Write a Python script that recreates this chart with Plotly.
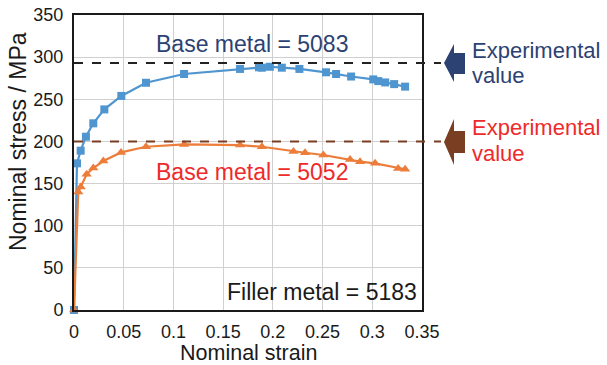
import plotly.graph_objects as go

# ---- data ----
strain_5083 = [0.0, 0.003, 0.0067, 0.012, 0.0194, 0.0305, 0.0476, 0.0724, 0.1107, 0.167, 0.186, 0.189,
               0.197, 0.209, 0.2267, 0.2535, 0.2636, 0.2787, 0.301, 0.306, 0.313, 0.322, 0.333]
stress_5083 = [0, 174, 189, 205.6, 221.5, 238, 254, 269.6, 280, 286, 288, 287.5,
               288.6, 287.5, 286, 282, 280, 277, 273.6, 271.6, 270, 268, 265]

strain_5052 = [0.0, 0.0043, 0.0067, 0.0127, 0.0194, 0.0295, 0.0473, 0.0724, 0.1107, 0.167, 0.189,
               0.2207, 0.2324, 0.2508, 0.2777, 0.2877, 0.3028, 0.326, 0.333]
stress_5052 = [0, 140, 146, 161, 168.4, 176.7, 187, 193.7, 196.5, 195.7, 193.7,
               188, 186.6, 183.9, 178.7, 176, 174, 168, 167]

exp_5083 = 293
exp_5052 = 200

x_ticks = [0, 0.05, 0.1, 0.15, 0.2, 0.25, 0.3, 0.35]
x_tick_labels = ["0", "0.05", "0.1", "0.15", "0.2", "0.25", "0.3", "0.35"]
y_ticks = [0, 50, 100, 150, 200, 250, 300, 350]

FONT = "Liberation Sans, Arial, sans-serif"
BLUE = "#4F95CF"
ORANGE = "#EC7D3A"
NAVY = "#2C4272"
BROWN = "#7A3E22"
RED = "#EE2A2A"
INK = "#1a1a1a"

W, H = 607, 365
L, R, T, B = 74, 422, 15, 310   # plot area in pixels


def px(xp):
    return (xp - L) / (R - L)


def py(yp):
    return (B - yp) / (B - T)


fig = go.Figure()
fig.add_trace(go.Scatter(x=strain_5083, y=stress_5083, mode="lines+markers",
                         line=dict(color=BLUE, width=2.2),
                         marker=dict(symbol="square", size=8, color=BLUE),
                         showlegend=False, cliponaxis=False))
fig.add_trace(go.Scatter(x=strain_5052, y=stress_5052, mode="lines+markers",
                         line=dict(color=ORANGE, width=2.2),
                         marker=dict(symbol="triangle-up", size=9, color=ORANGE),
                         showlegend=False, cliponaxis=False))

shapes = []
for val, col in [(exp_5083, "#222222"), (exp_5052, BROWN)]:
    shapes.append(dict(type="line", xref="paper", yref="y", x0=0, x1=px(441),
                       y0=val, y1=val, line=dict(color=col, width=2, dash="dash"), layer="above"))


def arrow_path(tip_x, tip_y, head_top, head_bot, base_x, body_top, body_bot, end_x):
    pts = [(tip_x, tip_y), (base_x, head_top), (base_x, body_top), (end_x, body_top),
           (end_x, body_bot), (base_x, body_bot), (base_x, head_bot)]
    return "M " + " L ".join(f"{px(a):.5f},{py(b):.5f}" for a, b in pts) + " Z"


shapes.append(dict(type="path", xref="paper", yref="paper",
                   path=arrow_path(444, 63, 44, 82, 454, 53, 74, 465),
                   fillcolor=NAVY, line=dict(width=0)))
shapes.append(dict(type="path", xref="paper", yref="paper",
                   path=arrow_path(444, 142, 119, 165, 454, 131, 153, 465),
                   fillcolor=BROWN, line=dict(width=0)))


def note(x, y, text, color, size=23, xanchor="center", angle=0):
    return dict(x=px(x), y=py(y), xref="paper", yref="paper", text=text,
                xanchor=xanchor, yanchor="middle", textangle=angle, showarrow=False,
                font=dict(family=FONT, size=size, color=color))


annotations = [
    note(252, 44, "Base metal = 5083", NAVY),
    note(252, 172, "Base metal = 5052", RED),
    note(419, 292, "Filler metal = 5183", INK, xanchor="right"),
    note(470, 50, "Experimental", NAVY, size=22, xanchor="left"),
    note(470, 75, "value", NAVY, size=22, xanchor="left"),
    note(470, 127, "Experimental", RED, size=22, xanchor="left"),
    note(470, 153, "value", RED, size=22, xanchor="left"),
    note(18, 142, "Nominal stress / MPa", INK, angle=-90),
    note(248, 353, "Nominal strain", INK, size=21.5),
]

fig.update_layout(
    width=W, height=H,
    margin=dict(l=L, r=W - R, t=T, b=H - B, pad=0, autoexpand=False),
    paper_bgcolor="white", plot_bgcolor="white",
    shapes=shapes, annotations=annotations,
    font=dict(family=FONT, size=18, color=INK),
    xaxis=dict(range=[0, 0.35], tickvals=x_ticks, ticktext=x_tick_labels,
               showgrid=True, gridcolor="#D0D0D0", gridwidth=1.3,
               showline=True, linecolor=INK, linewidth=2, mirror=True,
               zeroline=False, ticks="", ticklabelstandoff=4, automargin=False,
               tickfont=dict(family=FONT, size=18, color=INK)),
    yaxis=dict(range=[0, 350], tickvals=y_ticks,
               showgrid=True, gridcolor="#D0D0D0", gridwidth=1.3,
               showline=True, linecolor=INK, linewidth=2, mirror=True,
               zeroline=False, ticks="", ticklabelstandoff=5, automargin=False,
               tickfont=dict(family=FONT, size=18, color=INK)),
)

fig.write_html("out.html",
               config={"displayModeBar": False},
               post_script="document.body.style.margin='0px';document.body.style.padding='0px';")
